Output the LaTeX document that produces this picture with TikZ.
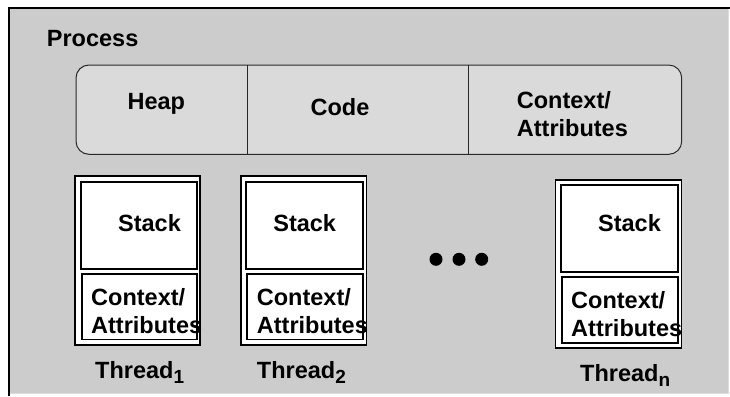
\documentclass[tikz,border=0pt]{standalone}
\usepackage{fontspec}
\setmainfont{Liberation Sans}
\definecolor{framegray}{RGB}{204,204,204}
\definecolor{edgegray}{RGB}{220,220,220}
\definecolor{segfill}{RGB}{218,218,218}
\definecolor{segline}{RGB}{40,40,40}
\begin{document}
\begin{tikzpicture}[x=1pt,y=-1pt,
  lbl/.style={inner sep=0pt, font=\fontsize{23.5}{28.3}\selectfont\bfseries},
  lblw/.style={lbl, anchor=base west, align=left},
  lblc/.style={lbl, anchor=base},
  outerbox/.style={draw=black, line width=1.1pt, fill=white, inner sep=0pt},
  innerbox/.style={draw=black, line width=1.6pt, fill=white, inner sep=0pt},
  dot/.style={circle, fill=black, inner sep=0pt, minimum size=13pt}]
\useasboundingbox (0,0) rectangle (730,396);
% process frame
\fill[framegray] (9,8) rectangle (728.5,393.5);
\draw[edgegray, line width=0.8pt] (728.5,8) -- (728.5,393.5) -- (9,393.5);
\draw[black, line width=1.6pt] (9,396) -- (9,8) -- (730,8);
\node[lblw] (proc) at (46.7,46) {Process};
% shared segments (two-line labels are placed by the baseline of their last line)
\node[draw=segline, line width=1pt, rounded corners=13pt, fill=segfill, inner sep=0pt,
  minimum width=605.7pt, minimum height=89.3pt] (shared) at (378.85,109.65) {};
\draw[segline, line width=1pt] (247.3,65) -- (247.3,154.3);
\draw[segline, line width=1pt] (468.7,65) -- (468.7,154.3);
\node[lblc] (heap) at (156.3,109.3) {Heap};
\node[lblc] (code) at (340,115) {Code};
\node[lblw] (pctx) at (516.7,136.7) {Context/\\Attributes};
% thread 1
\node[outerbox, minimum width=125pt, minimum height=169pt] (t1) at (137.5,260.5) {};
\node[innerbox, minimum width=116pt, minimum height=87.3pt] (s1) at (138.7,225.35) {};
\node[innerbox, minimum width=114.7pt, minimum height=65.6pt] (c1) at (139.35,306.5) {};
\node[lblc] (s1t) at (149.5,231.7) {Stack};
\node[lblw] (c1t) at (91,333.3) {Context/\\Attributes};
\node[lblw] (t1t) at (95,378.3) {Thread\raisebox{-5pt}{\fontsize{19}{19}\selectfont 1}};
% thread 2
\node[outerbox, minimum width=125.7pt, minimum height=169pt] (t2) at (303.85,260.5) {};
\node[innerbox, minimum width=117pt, minimum height=87.3pt] (s2) at (304.5,225.35) {};
\node[innerbox, minimum width=116pt, minimum height=65.6pt] (c2) at (305,306.5) {};
\node[lblc] (s2t) at (304.7,231.7) {Stack};
\node[lblw] (c2t) at (256.7,333.3) {Context/\\Attributes};
\node[lblw] (t2t) at (256.7,378.3) {Thread\raisebox{-5pt}{\fontsize{19}{19}\selectfont 2}};
% ellipsis
\node[dot] (d1) at (436,259.3) {};
\node[dot] (d2) at (459,259.3) {};
\node[dot] (d3) at (481.7,259.3) {};
% thread n
\node[outerbox, minimum width=126pt, minimum height=168pt] (tn) at (618.7,264) {};
\node[innerbox, minimum width=116.7pt, minimum height=87pt] (sn) at (619.35,228.5) {};
\node[innerbox, minimum width=115.7pt, minimum height=66pt] (cn) at (619.85,310) {};
\node[lblc] (snt) at (629.5,231) {Stack};
\node[lblw] (cnt) at (571,336.7) {Context/\\Attributes};
\node[lblw] (tnt) at (580,381.7) {Thread\raisebox{-5pt}{\fontsize{19}{19}\selectfont n}};
\end{tikzpicture}
\end{document}
